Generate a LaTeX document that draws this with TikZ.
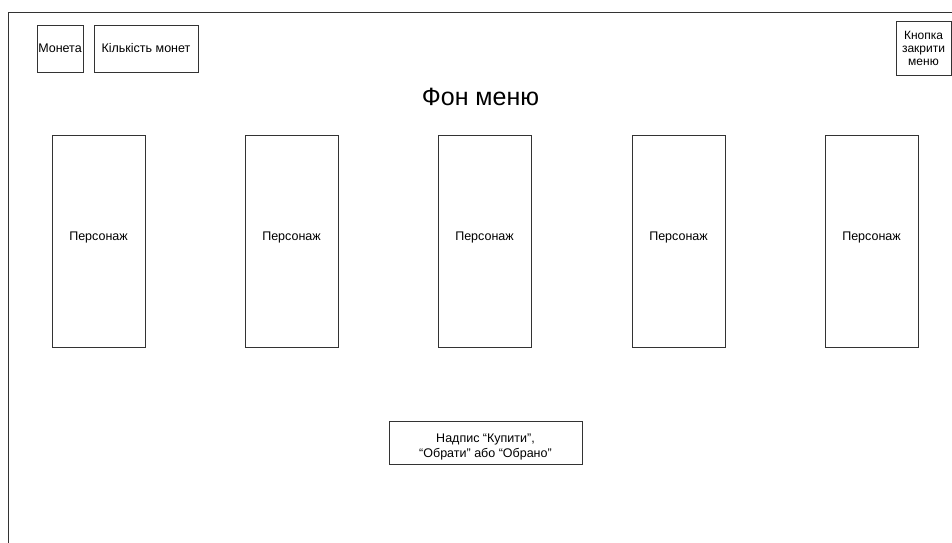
\documentclass[tikz,border=0pt]{standalone}
\usepackage{fontspec}
\setmainfont{Liberation Sans}
\begin{document}
\begin{tikzpicture}[x=1pt,y=-1pt,
  box/.style={draw=black!80, line width=0.9pt, fill=white, inner sep=0pt, align=center, font=\fontsize{12.5}{15}\selectfont},
  frameline/.style={draw=black!80, line width=1pt}]
\useasboundingbox (0,0) rectangle (952,542);
\coordinate (ftr) at (953,12.5);
\coordinate (ftl) at (8.5,12.5);
\coordinate (fbl) at (8.5,543);
\draw[frameline] (ftr) -- (ftl) -- (fbl);
\node[box, minimum width=46, minimum height=47] (coin) at (60,48.5) {Монета};
\node[box, minimum width=104, minimum height=47] (count) at (146,48.5) {Кількість монет};
\node[box, minimum width=55, minimum height=54, font=\fontsize{12}{13}\selectfont] (close) at (923.5,48) {Кнопка\\закрити\\меню};
\node[font=\fontsize{25}{28}\selectfont] (title) at (480.5,97) {Фон меню};
\foreach \i/\cx in {1/98.5,2/291.5,3/484.5,4/678.5,5/871.5}{
  \node[box, minimum width=93, minimum height=212, text depth=10pt] (p\i) at (\cx,241) {Персонаж};
}
\node[box, minimum width=193, minimum height=43, text height=30pt, text depth=0pt] (label) at (485.5,442.5) {Надпис “Купити”,\\“Обрати” або “Обрано”};
\end{tikzpicture}
\end{document}
